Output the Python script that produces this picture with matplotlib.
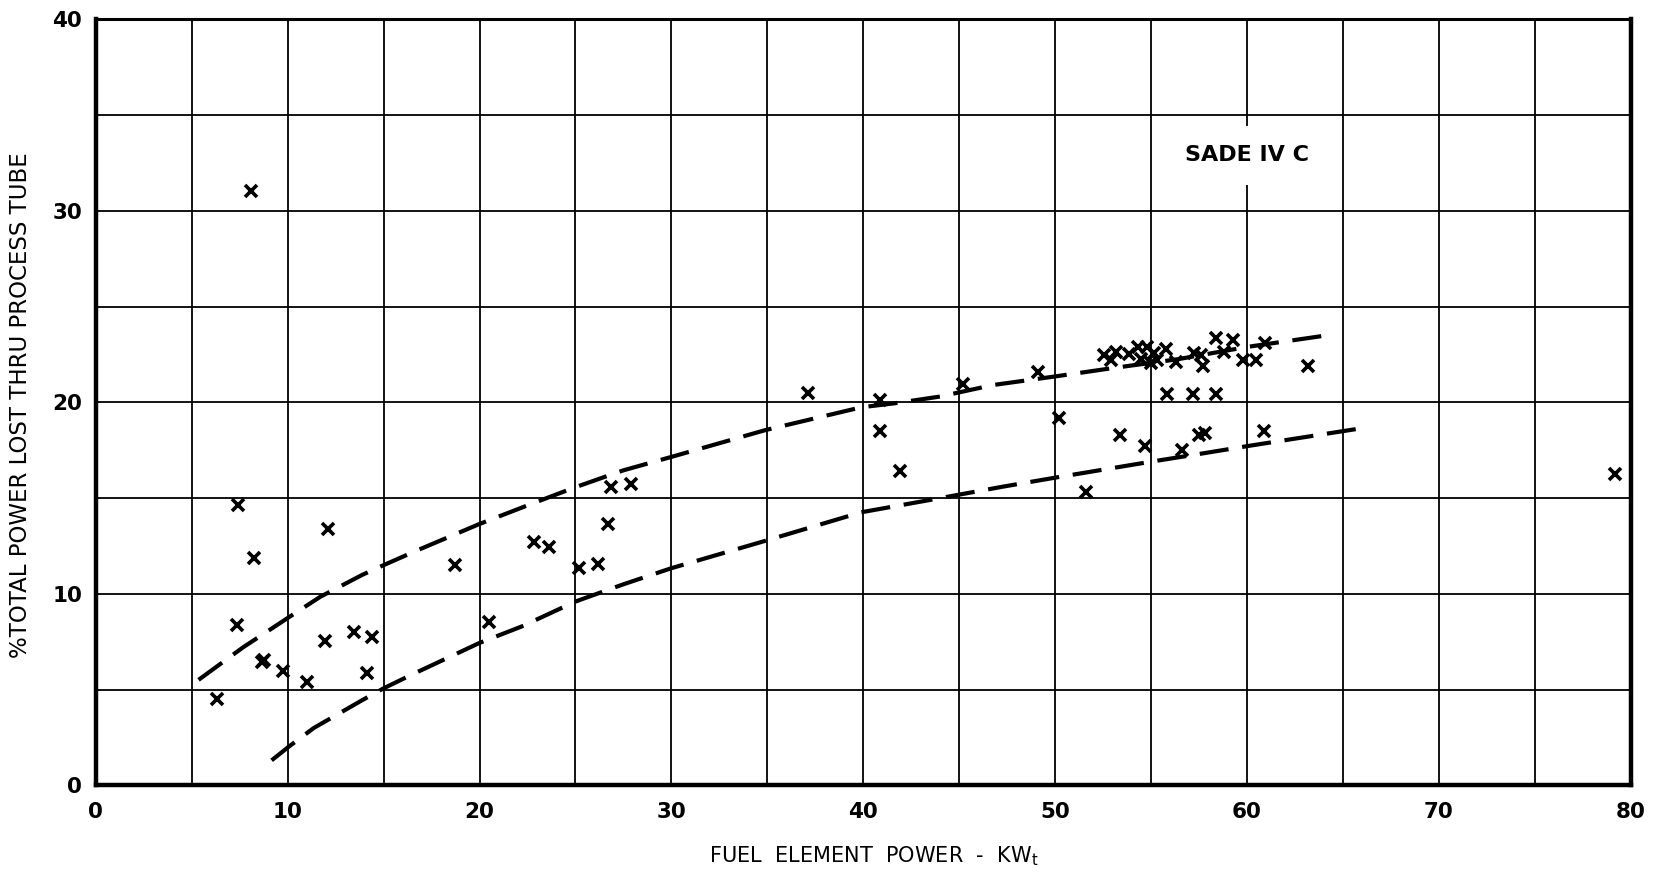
import numpy as np
import matplotlib
matplotlib.use('Agg')
import matplotlib.pyplot as plt

# measured points (fuel element power kW, % power lost)
pts_x = [6.3, 8.1, 7.43, 8.24, 7.36, 8.65, 8.75, 9.74, 11.0, 12.1, 11.93, 13.46,
         14.4, 14.13, 18.7, 20.5, 22.85, 23.6, 25.16, 26.15, 26.7, 26.85, 27.9,
         37.1, 40.88, 40.88, 41.9, 45.2, 49.1, 50.2, 51.6, 53.4, 54.7, 56.6,
         57.5, 57.8, 60.9, 55.84, 57.2, 58.4, 63.2, 60.93, 58.4, 59.3, 58.83,
         59.8, 60.5, 57.24, 57.7, 57.6, 56.3, 52.55, 53.2, 52.9, 53.87, 54.3,
         54.8, 54.5, 55.15, 55.3, 55.8, 55.0, 79.2]
pts_y = [4.5, 31.05, 14.65, 11.86, 8.36, 6.44, 6.55, 5.95, 5.42, 13.39, 7.56, 8.01,
         7.75, 5.86, 11.5, 8.52, 12.69, 12.46, 11.34, 11.58, 13.65, 15.57, 15.71,
         20.5, 20.1, 18.5, 16.4, 20.95, 21.6, 19.2, 15.3, 18.3, 17.7, 17.5,
         18.3, 18.4, 18.5, 20.45, 20.45, 20.45, 21.9, 23.1, 23.35, 23.25, 22.65,
         22.2, 22.2, 22.55, 21.9, 22.45, 22.1, 22.45, 22.65, 22.2, 22.5, 22.9,
         22.9, 22.25, 22.55, 22.2, 22.8, 22.05, 16.25]

# hand-drawn dashed envelope curves
upper_x = [5.35, 7.66, 10.09, 11.7, 13.9, 15.0, 16.7, 20.0, 22.45, 25.0, 27.5,
           30.0, 34.9, 39.9, 41.64, 44.0, 46.75, 50.0, 53.1, 56.4, 60.07, 64.2]
upper_y = [5.51, 7.2, 8.8, 9.85, 11.0, 11.5, 12.25, 13.65, 14.6, 15.57, 16.45,
           17.15, 18.55, 19.74, 19.95, 20.3, 20.9, 21.35, 21.8, 22.25, 22.9, 23.5]
lower_x = [9.16, 10.09, 11.36, 13.9, 15.0, 16.44, 20.0, 22.2, 25.0, 27.5, 30.0,
           34.9, 39.9, 43.47, 47.3, 50.2, 55.0, 57.5, 60.25, 66.0]
lower_y = [1.31, 2.05, 3.0, 4.46, 5.07, 5.77, 7.44, 8.3, 9.6, 10.5, 11.34,
           12.77, 14.26, 14.9, 15.6, 16.1, 16.9, 17.3, 17.75, 18.65]

xticks = [0, 10, 20, 30, 40, 50, 60, 70, 80]
yticks = [0, 10, 20, 30, 40]

fig = plt.figure(figsize=(16.71, 8.81), dpi=100)
ax = fig.add_axes([0.0574, 0.1085, 0.9184, 0.8697])

ax.set_xlim(0, 80)
ax.set_ylim(0, 40)
ax.set_xticks(np.arange(0, 81, 5), minor=True)
ax.set_yticks(np.arange(0, 41, 5), minor=True)
ax.set_xticks(xticks)
ax.set_yticks(yticks)
ax.grid(True, which='both', color='black', lw=1.3)
ax.set_axisbelow(True)
ax.tick_params(which='both', length=0)
ax.tick_params(axis='x', pad=12)
ax.tick_params(axis='y', pad=10)
for lab in ax.get_xticklabels() + ax.get_yticklabels():
    lab.set_fontsize(15.5)
    lab.set_fontweight('bold')

for side in ['left', 'bottom', 'right']:
    ax.spines[side].set_linewidth(3.2)
ax.spines['top'].set_linewidth(2.2)

ax.plot(upper_x, upper_y, color='black', lw=3, dashes=(7, 3.3))
ax.plot(lower_x, lower_y, color='black', lw=3, dashes=(7, 3.3))
ax.plot(pts_x, pts_y, ls='none', marker='x', color='black', ms=8, mew=2.6)

ax.text(60.0, 32.9, 'SADE IV C', fontsize=16, fontweight='bold', ha='center',
        va='center', bbox=dict(facecolor='white', edgecolor='none', pad=14))

fig.text(0.012, 0.54, '%TOTAL POWER LOST THRU PROCESS TUBE', rotation=90,
         ha='center', va='center', fontsize=16.5)
fig.text(0.523, 0.028, r'FUEL  ELEMENT  POWER  -  KW$_\mathregular{t}$',
         ha='center', va='center', fontsize=15, fontweight='medium')

fig.savefig('out.png', dpi=100)
